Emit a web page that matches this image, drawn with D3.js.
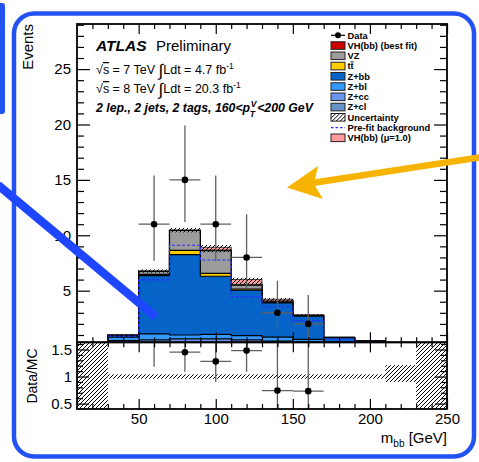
<!DOCTYPE html>
<html>
<head>
<meta charset="utf-8">
<script src="https://cdn.jsdelivr.net/npm/d3@7"></script>
<style>
body { margin: 0; background: #fff; }
svg { display: block; }
</style>
</head>
<body>
<script>
// m_bb distribution, 2 lepton / 2 tag / 160<pTV<200 GeV
const binEdges = [30, 50, 70, 90, 110, 130, 150, 170, 190, 210, 230, 250];

// backgrounds (events per 20 GeV bin), stacked bottom -> top
const zcl   = [0.25, 0.25, 0.20, 0.20, 0.15, 0.12, 0.10, 0.05, 0.02, 0.01, 0];
const zcc   = [0.25, 0.30, 0.45, 0.45, 0.40, 0.33, 0.25, 0.10, 0.05, 0.02, 0];
const zbl   = [0.30, 0.55, 0.35, 0.40, 0.40, 0.35, 0.25, 0.15, 0.05, 0.02, 0];
const zbb   = [0.15, 5.25, 7.25, 5.25, 4.10, 3.10, 2.10, 0.45, 0.32, 0.10, 0];
const ttbar = [0.02, 0.12, 0.38, 0.27, 0.10, 0.05, 0.03, 0.01, 0, 0, 0];
const vz    = [0.02, 0.28, 1.80, 2.05, 0.35, 0.10, 0.05, 0.02, 0.01, 0, 0];
const vhFit = [0, 0.02, 0.03, 0.05, 0.06, 0.03, 0.02, 0, 0, 0, 0];
// extra signal for mu = 1 (pink, on top of the stack)
const vhSM  = [0, 0, 0, 0.25, 0.45, 0.15, 0, 0, 0, 0, 0];
// stat+syst uncertainty on the stack total
const stackErr = [0.05, 0.15, 0.2, 0.2, 0.15, 0.1, 0.08, 0.04, 0.03, 0.02, 0];
// pre-fit background
const prefit = [0.9, 5.97, 9.1, 7.77, 4.46, 3.55, 2.3, 0.64, 0.4, 0.15, 0];

// data
const dataX   = [40, 60, 80, 100, 120, 140, 160, 180, 200, 220, 240];
const dataY   = [0, 11, 15, 11, 8, 3, 2, 0, 0, 0, 0];
const dataUp  = [0, 4.4, 4.9, 4.4, 3.9, 2.9, 2.6, 0, 0, 0, 0];
const dataDn  = [0, 3.3, 3.8, 3.3, 2.8, 1.6, 1.3, 0, 0, 0, 0];

// ratio panel
const ratioY  = [null, 1.65, 1.45, 1.28, 1.48, 0.74, 0.73, null, null, null, null];
const ratioUp = [0, 0.6, 0.5, 0.5, 0.6, 1.0, 1.0, 0, 0, 0, 0];
const ratioDn = [0, 0.47, 0.36, 0.38, 0.39, 0.5, 0.5, 0, 0, 0, 0];
const bandLo  = [0.96, 0.96, 0.96, 0.96, 0.96, 0.96, 0.96, 0.96, 0.96, 0.9, null];
const bandHi  = [1.04, 1.04, 1.04, 1.04, 1.04, 1.04, 1.04, 1.04, 1.04, 1.21, null];

const yMajor = [5, 10, 15, 20, 25];
const xMajor = [50, 100, 150, 200, 250];
const rMajor = [0.5, 1, 1.5];

const WIDTH = 479, HEIGHT = 462;
const FONT = "'Liberation Sans', Arial, Helvetica, sans-serif";
const L = 77, R = 447, T = 24, MB = 342.3, RB = 409;

const svg = d3.select("body").append("svg")
  .attr("width", WIDTH).attr("height", HEIGHT)
  .style("font-family", FONT);

const x = d3.scaleLinear().domain([10, 250]).range([L, R]);
const y = d3.scaleLinear().domain([0.34, 29.07]).range([MB, T]);
const yr = d3.scaleLinear().domain([0.4, 1.633]).range([RB, MB]);

const defs = svg.append("defs");
defs.append("clipPath").attr("id", "clipMain").append("rect")
  .attr("x", L).attr("y", T).attr("width", R - L).attr("height", MB - T);
defs.append("clipPath").attr("id", "clipRatio").append("rect")
  .attr("x", L).attr("y", MB).attr("width", R - L).attr("height", RB - MB);
const pat = defs.append("pattern").attr("id", "hatch")
  .attr("patternUnits", "userSpaceOnUse").attr("width", 4).attr("height", 4);
pat.append("path").attr("d", "M-1,1 l2,-2 M0,4 l4,-4 M3,5 l2,-2")
  .attr("stroke", "#000").attr("stroke-width", 1);

// ---- main panel ----
const main = svg.append("g").attr("clip-path", "url(#clipMain)");

const layers = [
  { vals: zcl,   color: "#6592c8" },
  { vals: zcc,   color: "#6a96f2" },
  { vals: zbl,   color: "#3399ff" },
  { vals: zbb,   color: "#0664c8" },
  { vals: ttbar, color: "#ffcc00" },
  { vals: vz,    color: "#9c9c9c" },
  { vals: vhFit, color: "#cc0000" }
];
let cum = zcl.map(() => 0);
layers.forEach(l => {
  cum = cum.map((c, i) => c + l.vals[i]);
  l.top = cum.slice();
});
const total = cum;

const stepPts = vals => [[binEdges[0], 0]]
  .concat(binEdges.map((e, i) => [e, vals[Math.min(i, vals.length - 1)]]))
  .concat([[binEdges[binEdges.length - 1], 0]]);

const stepLine = d3.line().x(d => x(d[0])).y(d => y(Math.max(d[1], 0.0001)))
  .curve(d3.curveStepAfter);

layers.slice().reverse().forEach(l => {
  main.append("path")
    .attr("d", stepLine(stepPts(l.top)))
    .attr("fill", l.color)
    .attr("stroke", "#000")
    .attr("stroke-width", 1.2);
});

// mu=1 signal in pink
main.selectAll(".vhsm")
  .data(vhSM.map((v, i) => ({ v, i })).filter(d => d.v > 0))
  .join("rect")
  .attr("class", "vhsm")
  .attr("x", d => x(binEdges[d.i]))
  .attr("width", d => x(binEdges[d.i + 1]) - x(binEdges[d.i]))
  .attr("y", d => y(total[d.i] + d.v))
  .attr("height", d => y(total[d.i]) - y(total[d.i] + d.v))
  .attr("fill", "#ff9c9c")
  .attr("stroke", "#222").attr("stroke-width", 0.8);

// hatched uncertainty
main.selectAll(".unc")
  .data(total.map((t, i) => ({ t, i, e: stackErr[i] + vhSM[i] })).filter(d => d.t > 0))
  .join("rect")
  .attr("class", "unc")
  .attr("x", d => x(binEdges[d.i]))
  .attr("width", d => x(binEdges[d.i + 1]) - x(binEdges[d.i]))
  .attr("y", d => y(d.t + d.e))
  .attr("height", d => y(d.t - stackErr[d.i]) - y(d.t + d.e))
  .attr("fill", "url(#hatch)");

// pre-fit background
main.append("path")
  .attr("d", stepLine(stepPts(prefit)))
  .attr("fill", "none")
  .attr("stroke", "#2a2aff")
  .attr("stroke-width", 1.2)
  .attr("stroke-dasharray", "3,2");

// data
const pts = dataX.map((c, i) => ({ c, v: dataY[i], up: dataUp[i], dn: dataDn[i] })).filter(d => d.v > 0);
main.selectAll(".ev").data(pts).join("line").attr("class", "ev")
  .attr("x1", d => x(d.c)).attr("x2", d => x(d.c))
  .attr("y1", d => y(d.v + d.up)).attr("y2", d => y(d.v - d.dn))
  .attr("stroke", "#606060").attr("stroke-width", 1.3);
main.selectAll(".eh").data(pts).join("line").attr("class", "eh")
  .attr("x1", d => x(d.c - 10)).attr("x2", d => x(d.c + 10))
  .attr("y1", d => y(d.v)).attr("y2", d => y(d.v))
  .attr("stroke", "#606060").attr("stroke-width", 1.3);
main.selectAll(".dot").data(pts).join("circle").attr("class", "dot")
  .attr("cx", d => x(d.c)).attr("cy", d => y(d.v)).attr("r", 3.3).attr("fill", "#000");

// ---- ratio panel ----
const rat = svg.append("g").attr("clip-path", "url(#clipRatio)");
// no MC: full hatch
[[10, 30], [230, 250]].forEach(r => {
  rat.append("rect").attr("x", x(r[0])).attr("width", x(r[1]) - x(r[0]))
    .attr("y", MB).attr("height", RB - MB).attr("fill", "url(#hatch)");
});
rat.selectAll(".band")
  .data(bandLo.map((lo, i) => ({ lo, hi: bandHi[i], i })).filter(d => d.lo != null))
  .join("rect").attr("class", "band")
  .attr("x", d => x(binEdges[d.i]))
  .attr("width", d => x(binEdges[d.i + 1]) - x(binEdges[d.i]))
  .attr("y", d => yr(d.hi)).attr("height", d => yr(d.lo) - yr(d.hi))
  .attr("fill", "url(#hatch)");

const rpts = dataX.map((c, i) => ({ c, v: ratioY[i], up: ratioUp[i], dn: ratioDn[i] })).filter(d => d.v != null);
rat.selectAll(".rv").data(rpts).join("line").attr("class", "rv")
  .attr("x1", d => x(d.c)).attr("x2", d => x(d.c))
  .attr("y1", d => yr(d.v + d.up)).attr("y2", d => yr(d.v - d.dn))
  .attr("stroke", "#606060").attr("stroke-width", 1.3);
rat.selectAll(".rh").data(rpts).join("line").attr("class", "rh")
  .attr("x1", d => x(d.c - 10)).attr("x2", d => x(d.c + 10))
  .attr("y1", d => yr(d.v)).attr("y2", d => yr(d.v))
  .attr("stroke", "#606060").attr("stroke-width", 1.3);
rat.selectAll(".rdot").data(rpts.filter(d => d.v < 1.633)).join("circle").attr("class", "rdot")
  .attr("cx", d => x(d.c)).attr("cy", d => yr(d.v)).attr("r", 3.3).attr("fill", "#000");

// ---- axes ----
function styleAxis(g) {
  g.select(".domain").remove();
  g.selectAll("line").attr("stroke", "#000").attr("stroke-width", 1.2);
  g.selectAll("text").attr("font-family", FONT).attr("font-size", 15).attr("fill", "#000");
}
const minor = (lo, hi, step, majors) => d3.range(lo, hi + 1e-9, step)
  .map(v => +v.toFixed(3)).filter(v => !majors.some(m => Math.abs(m - v) < 1e-6));

// main y
svg.append("g").attr("transform", `translate(${L},0)`)
  .call(d3.axisLeft(y).tickValues(yMajor).tickSize(-13).tickPadding(6)).call(styleAxis);
svg.append("g").attr("transform", `translate(${L},0)`)
  .call(d3.axisLeft(y).tickValues(minor(1, 29, 1, yMajor)).tickSize(-7).tickFormat("")).call(styleAxis);
svg.append("g").attr("transform", `translate(${R},0)`)
  .call(d3.axisRight(y).tickValues(yMajor).tickSize(-13).tickFormat("")).call(styleAxis);
svg.append("g").attr("transform", `translate(${R},0)`)
  .call(d3.axisRight(y).tickValues(minor(1, 29, 1, yMajor)).tickSize(-7).tickFormat("")).call(styleAxis);

// x ticks on main and ratio
const xMinor = minor(20, 240, 10, xMajor);
[[MB, "b"], [T, "t"], [RB, "b"], [MB, "t"]].forEach(([yy, side], k) => {
  const ax = side === "b" ? d3.axisBottom : d3.axisTop;
  const labels = k === 2;
  svg.append("g").attr("transform", `translate(0,${yy})`)
    .call(ax(x).tickValues(xMajor).tickSize(-10).tickPadding(4).tickFormat(labels ? d3.format("d") : ""))
    .call(styleAxis);
  svg.append("g").attr("transform", `translate(0,${yy})`)
    .call(ax(x).tickValues(xMinor).tickSize(-5).tickFormat(""))
    .call(styleAxis);
});

// ratio y
const rMinor = minor(0.5, 1.6, 0.1, rMajor);
svg.append("g").attr("transform", `translate(${L},0)`)
  .call(d3.axisLeft(yr).tickValues(rMajor).tickSize(-12).tickPadding(5).tickFormat(d => d3.format("")(d)))
  .call(styleAxis);
svg.append("g").attr("transform", `translate(${L},0)`)
  .call(d3.axisLeft(yr).tickValues(rMinor).tickSize(-6).tickFormat("")).call(styleAxis);
svg.append("g").attr("transform", `translate(${R},0)`)
  .call(d3.axisRight(yr).tickValues(rMajor).tickSize(-12).tickFormat("")).call(styleAxis);
svg.append("g").attr("transform", `translate(${R},0)`)
  .call(d3.axisRight(yr).tickValues(rMinor).tickSize(-6).tickFormat("")).call(styleAxis);

// frames
svg.append("rect").attr("x", L).attr("y", T).attr("width", R - L).attr("height", MB - T)
  .attr("fill", "none").attr("stroke", "#000").attr("stroke-width", 1.8);
svg.append("rect").attr("x", L).attr("y", MB).attr("width", R - L).attr("height", RB - MB)
  .attr("fill", "none").attr("stroke", "#000").attr("stroke-width", 1.8);

// axis titles
svg.append("text").attr("transform", "translate(33,24) rotate(-90)")
  .attr("text-anchor", "end").attr("font-size", 15).text("Events");
svg.append("text").attr("transform", "translate(36.5,376) rotate(-90)")
  .attr("text-anchor", "middle").attr("font-size", 14).text("Data/MC");
const xt = svg.append("text").attr("x", R).attr("y", 443).attr("text-anchor", "end").attr("font-size", 15);
xt.append("tspan").text("m");
xt.append("tspan").attr("dy", 4).attr("font-size", 10).text("bb");
xt.append("tspan").attr("dy", -4).text(" [GeV]");

// ---- labels ----
svg.append("text").attr("x", 96).attr("y", 51).attr("font-size", 15.5)
  .attr("font-weight", "bold").attr("font-style", "italic").text("ATLAS");
svg.append("text").attr("x", 156).attr("y", 51).attr("font-size", 15).text("Preliminary");

function lumiLine(yy, e, lumi) {
  const t = svg.append("text").attr("x", 96).attr("y", yy).attr("font-size", 12.5);
  t.append("tspan").text("\u221A");
  t.append("tspan").style("text-decoration", "overline").text("s");
  t.append("tspan").text(` = ${e} TeV `);
  t.append("tspan").attr("font-size", 17).attr("dy", 2).text("\u222B");
  t.append("tspan").attr("dy", -2).text(`Ldt = ${lumi} fb`);
  t.append("tspan").attr("dy", -5).attr("font-size", 8.5).text("-1");
}
lumiLine(74, 7, "4.7");
lumiLine(93, 8, "20.3");

const sel = svg.append("text").attr("x", 96).attr("y", 112).attr("font-size", 12.3)
  .attr("font-weight", "bold").attr("font-style", "italic").text("2 lep., 2 jets, 2 tags, 160<p");
const selW = sel.node().getComputedTextLength();
svg.append("text").attr("x", 96 + selW + 0.5).attr("y", 107).attr("font-size", 8.5)
  .attr("font-weight", "bold").attr("font-style", "italic").text("V");
svg.append("text").attr("x", 96 + selW - 0.5).attr("y", 117).attr("font-size", 8.5)
  .attr("font-weight", "bold").attr("font-style", "italic").text("T");
svg.append("text").attr("x", 96 + selW + 7).attr("y", 112).attr("font-size", 12.3)
  .attr("font-weight", "bold").attr("font-style", "italic").text("<200 GeV");

// ---- legend ----
const legItems = [
  { label: "Data", kind: "data" },
  { label: "VH(bb) (best fit)", kind: "box", color: "#cc0000" },
  { label: "VZ", kind: "box", color: "#9c9c9c" },
  { label: "tt", kind: "box", color: "#ffcc00" },
  { label: "Z+bb", kind: "box", color: "#0664c8" },
  { label: "Z+bl", kind: "box", color: "#3399ff" },
  { label: "Z+cc", kind: "box", color: "#6a96f2" },
  { label: "Z+cl", kind: "box", color: "#6592c8" },
  { label: "Uncertainty", kind: "box", color: "url(#hatch)" },
  { label: "Pre-fit background", kind: "dash" },
  { label: "VH(bb) (\u03BC=1.0)", kind: "box", color: "#ff9c9c" }
];
const lx = 331, lw = 14, ly0 = 35.3, lstep = 10.25;
const leg = svg.selectAll(".leg").data(legItems).join("g").attr("class", "leg")
  .attr("transform", (d, i) => `translate(0,${ly0 + i * lstep})`);
leg.filter(d => d.kind === "box").append("rect")
  .attr("x", lx).attr("y", -3.8).attr("width", lw).attr("height", 7.6)
  .attr("fill", d => d.color).attr("stroke", "#222").attr("stroke-width", 1);
leg.filter(d => d.kind === "data").append("line")
  .attr("x1", lx).attr("x2", lx + lw).attr("stroke", "#000").attr("stroke-width", 1.2);
leg.filter(d => d.kind === "data").append("circle")
  .attr("cx", lx + lw / 2).attr("r", 3).attr("fill", "#000");
leg.filter(d => d.kind === "dash").append("line")
  .attr("x1", lx).attr("x2", lx + lw).attr("stroke", "#2a2aff")
  .attr("stroke-width", 1.3).attr("stroke-dasharray", "2.5,2");
const lt = leg.append("text").attr("x", lx + 16.5).attr("y", 3.4)
  .attr("font-size", 9.3).attr("font-weight", "bold");
lt.filter(d => d.label !== "tt").text(d => d.label);
const ttText = lt.filter(d => d.label === "tt");
ttText.append("tspan").text("t");
ttText.append("tspan").style("text-decoration", "overline").text("t");

// ---- hand-drawn annotations ----
const ann = svg.append("g");
ann.append("rect").attr("x", 14).attr("y", 13.5).attr("width", 460).attr("height", 443)
  .attr("rx", 20).attr("fill", "none").attr("stroke", "#2352f2").attr("stroke-width", 4.5);
ann.append("rect").attr("x", -4).attr("y", 3).attr("width", 9).attr("height", 111)
  .attr("rx", 3).attr("fill", "#2352f2");
ann.append("line").attr("x1", -2).attr("y1", 185).attr("x2", 156).attr("y2", 317)
  .attr("stroke", "#1f46ff").attr("stroke-width", 8.5);
ann.append("line").attr("x1", 482).attr("y1", 157).attr("x2", 312).attr("y2", 183)
  .attr("stroke", "#f6b300").attr("stroke-width", 6.5);
ann.append("path").attr("d", "M287,187.5 L318,166 L314,184 L323,199 Z")
  .attr("fill", "#f6b300");
</script>
</body>
</html>
